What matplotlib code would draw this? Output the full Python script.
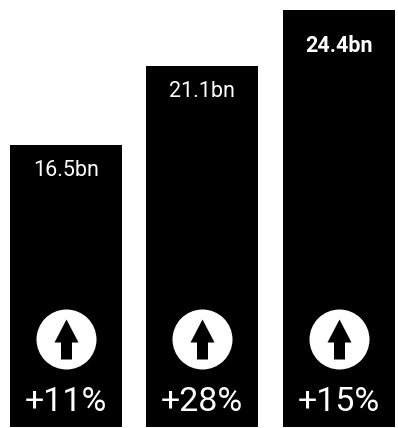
import numpy as np
import matplotlib
matplotlib.use("Agg")
import matplotlib.pyplot as plt
from matplotlib.path import Path

plt.rcParams['font.family'] = ['Roboto', 'DejaVu Sans']

values = [16.5, 21.1, 24.4]
value_labels = ['16.5bn', '21.1bn', '24.4bn']
changes = ['+11%', '+28%', '+15%']
label_weights = ['normal', 'normal', 'bold']
label_drop = [31, 31, 42]

DPI = 100
PX_PER_BN = 17.1
BASE_PX = 427
px = 72 / DPI

fig = plt.figure(figsize=(3.98, 4.28), dpi=DPI)
ax = fig.add_axes([0, 0, 1, 1])
ax.axis('off')

# one category step is 136.25 px, first bar centred at x=66
step = 136.25
ax.set_xlim(-66 / step, (398 - 66) / step)
ax.set_ylim(-(428 - BASE_PX) / PX_PER_BN, BASE_PX / PX_PER_BN)

xs = np.arange(len(values))
ax.bar(xs, values, width=112 / step, color='black', linewidth=0)

# up arrow marker, tip to tail spans the marker size
arrow = Path([(0, 20), (12, -3), (5.5, -3), (5.5, -20), (-5.5, -20), (-5.5, -3), (-12, -3), (0, 20)], closed=True)

icon_y = 88.5 / PX_PER_BN
ax.plot(xs, [icon_y] * 3, ls='none', marker='o', ms=60 * px, mfc='white', mec='none')
ax.plot(xs, [icon_y] * 3, ls='none', marker=arrow, ms=40 * px, mfc='black', mec='none')

for x, v, lab, w, drop, ch in zip(xs, values, value_labels, label_weights, label_drop, changes):
    ax.annotate(lab, (x, v), xytext=(0, -drop * px), textcoords='offset points',
                ha='center', va='baseline', color='white', fontsize=15.5, fontweight=w)
    ax.annotate(ch, (x, 0), xytext=(0, 16 * px), textcoords='offset points',
                ha='center', va='baseline', color='white', fontsize=24.5)

fig.savefig('out.png', dpi=DPI, facecolor='white')
